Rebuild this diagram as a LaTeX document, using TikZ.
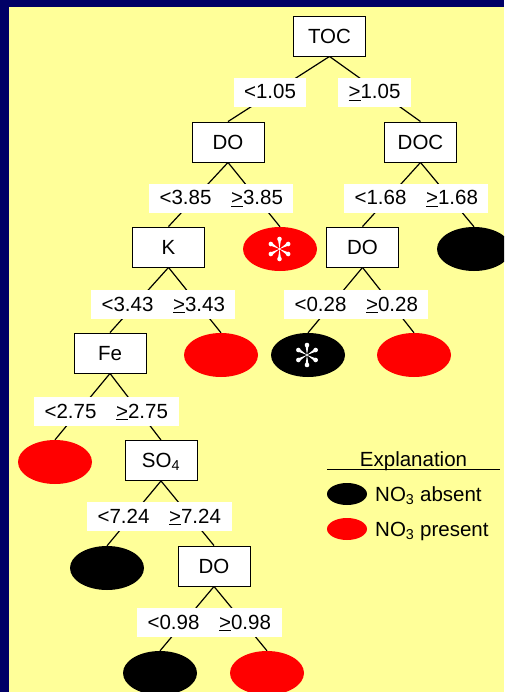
\documentclass[tikz,border=0pt]{standalone}
\usepackage{fontspec}
\setmainfont{Liberation Sans}
\usetikzlibrary{shapes.geometric}
\definecolor{navyframe}{RGB}{0,0,102}
\definecolor{paleyellow}{RGB}{255,255,153}
\definecolor{nored}{RGB}{255,0,0}
\pgfdeclarelayer{bgfill}
\pgfdeclarelayer{edgelayer}
\pgfsetlayers{bgfill,edgelayer,main}
\newcommand{\geu}{\underline{>}}
\begin{document}
\begin{tikzpicture}[x=1pt,y=-1pt,
  every node/.style={font=\fontsize{20.5}{24}\selectfont, text=black},
  varbox/.style={draw=black, fill=white, line width=0.9pt, minimum width=72pt, minimum height=40pt, inner sep=0pt, text height=14.7pt, text depth=0pt},
  leaf/.style={ellipse, minimum width=74pt, minimum height=44pt, inner sep=0pt},
  leafno/.style={leaf, fill=black},
  leafyes/.style={leaf, fill=nored},
  pairbox/.style={fill=white, minimum width=144pt, minimum height=29pt, inner sep=0pt},
  singlebox/.style={fill=white, minimum width=72pt, minimum height=29pt, inner sep=0pt},
  lbl/.style={inner sep=0pt, anchor=base},
  legtext/.style={inner sep=0pt, anchor=west, text height=14.7pt, text depth=0pt},
  edge/.style={line width=1.2pt, black},
  asterisk6/.pic={
    \foreach \a in {90,30,-30,-90,150,210} {
      \fill[white] (0,0) -- ({\a+9}:9.6) -- ({\a-9}:9.6) -- cycle;
      \fill[white] (\a:10) circle (2.3pt);
    }
    \fill[white] (0,0) circle (1.2pt);
  }
]
\useasboundingbox (0,0) rectangle (504,692);
\clip (0,0) rectangle (504,692);
\begin{pgfonlayer}{bgfill}
  \fill[navyframe] (0,0) rectangle (504,692);
  \fill[paleyellow] (9,7) rectangle (504,692);
\end{pgfonlayer}

% decision boxes
\node[varbox] (toc) at (329.5,36) {TOC};
\node[varbox] (doA) at (228,142) {DO};
\node[varbox] (doc) at (420.5,142) {DOC};
\node[varbox] (k) at (168.5,247) {K};
\node[varbox] (doB) at (362.5,247) {DO};
\node[varbox] (fe) at (110,353) {Fe};
\node[varbox] (so4) at (161,460.5) {SO\textsubscript{4}};
\node[varbox] (doC) at (214,566) {DO};

% leaves
\node[leafyes] (r1) at (280,249) {};
\node[leafno]  (b1) at (474,249) {};
\node[leafyes] (r2) at (221,355) {};
\node[leafno]  (b2) at (308,355) {};
\node[leafyes] (r3) at (414,355) {};
\node[leafyes] (r4) at (55,462) {};
\node[leafno]  (b3) at (107,568) {};
\node[leafno]  (b4) at (160,673) {};
\node[leafyes] (r5) at (267,673) {};
\pic at (279.5,249) {asterisk6};
\pic at (307,355) {asterisk6};

% connectors
\begin{pgfonlayer}{edgelayer}
  \draw[edge] (toc.south) -- (doA.north);
  \draw[edge] (toc.south) -- (doc.north);
  \draw[edge] (doA.south) -- (k.north);
  \draw[edge] (doA.south) -- (r1.north);
  \draw[edge] (doc.south) -- (doB.north);
  \draw[edge] (doc.south) -- (b1.north);
  \draw[edge] (k.south) -- (fe.north);
  \draw[edge] (k.south) -- (r2.north);
  \draw[edge] (doB.south) -- (b2.north);
  \draw[edge] (doB.south) -- (r3.north);
  \draw[edge] (fe.south) -- (r4.north);
  \draw[edge] (fe.south) -- (so4.north);
  \draw[edge] (so4.south) -- (b3.north);
  \draw[edge] (so4.south) -- (doC.north);
  \draw[edge] (doC.south) -- (b4.north);
  \draw[edge] (doC.south) -- (r5.north);
\end{pgfonlayer}

% split labels
\node[singlebox] (s105a) at (270,92.5) {};
\node[singlebox, minimum width=73pt] (s105b) at (374.5,92.5) {};
\node[lbl] (t105a) at (270,99) {<1.05};
\node[lbl] (t105b) at (374.5,99) {\geu1.05};

\node[pairbox] (p385) at (221,198.5) {};
\node[lbl] (t385a) at (185.5,205) {<3.85};
\node[lbl] (t385b) at (257,205) {\geu3.85};

\node[pairbox] (p168) at (416,198.5) {};
\node[lbl] (t168a) at (380.5,205) {<1.68};
\node[lbl] (t168b) at (452,205) {\geu1.68};

\node[pairbox] (p343) at (163,304.5) {};
\node[lbl] (t343a) at (127.5,311) {<3.43};
\node[lbl] (t343b) at (199,311) {\geu3.43};

\node[pairbox] (p028) at (356,304.5) {};
\node[lbl] (t028a) at (320.5,311) {<0.28};
\node[lbl] (t028b) at (392,311) {\geu0.28};

\node[pairbox, minimum width=145pt] (p275) at (106.5,411.5) {};
\node[lbl] (t275a) at (70.5,418) {<2.75};
\node[lbl] (t275b) at (142,418) {\geu2.75};

\node[pairbox, minimum width=145pt] (p724) at (159.5,516.5) {};
\node[lbl] (t724a) at (123.5,523) {<7.24};
\node[lbl] (t724b) at (195,523) {\geu7.24};

\node[pairbox, minimum width=145pt] (p098) at (209.5,622.5) {};
\node[lbl] (t098a) at (173.5,629) {<0.98};
\node[lbl] (t098b) at (245,629) {\geu0.98};

% legend
\node[lbl] (expl) at (413.5,466) {Explanation};
\coordinate (ulA) at (327,469.5);
\coordinate (ulB) at (500,469.5);
\draw[line width=1.4pt, black] (ulA) -- (ulB);
\node[ellipse, fill=black, minimum width=40pt, minimum height=22pt, inner sep=0pt] (legno) at (347,494) {};
\node[ellipse, fill=nored, minimum width=40pt, minimum height=22pt, inner sep=0pt] (legyes) at (347,529) {};
\node[legtext] (legnot) at (375,494) {NO\textsubscript{3} absent};
\node[legtext] (legyest) at (375,529) {NO\textsubscript{3} present};
\end{tikzpicture}
\end{document}
